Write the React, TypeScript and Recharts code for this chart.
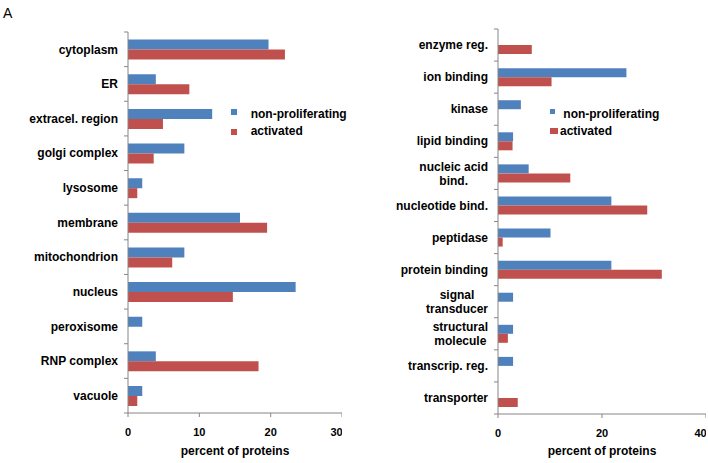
import { BarChart, Bar, XAxis, YAxis, Legend } from 'recharts';

const BLUE = '#4F81BD';
const RED = '#C0504D';
const AXIS = '#868686';
const FONT = "'Liberation Sans', Arial, sans-serif";

// cellular localisation (left panel)
const locations = [
  'cytoplasm', 'ER', 'extracel. region', 'golgi complex', 'lysosome', 'membrane',
  'mitochondrion', 'nucleus', 'peroxisome', 'RNP complex', 'vacuole',
];
const locNonProlif = [19.7, 3.9, 11.8, 7.9, 2.0, 15.7, 7.9, 23.5, 2.0, 3.9, 2.0];
const locActivated = [22.0, 8.6, 4.9, 3.6, 1.3, 19.5, 6.2, 14.7, 0, 18.3, 1.3];
const locTicks = [0, 10, 20, 30];

// molecular function (right panel)
const functions = [
  'enzyme reg.', 'ion binding', 'kinase', 'lipid binding', 'nucleic acid\nbind.',
  'nucleotide bind.', 'peptidase', 'protein binding', 'signal\ntransducer',
  'structural\nmolecule', 'transcrip. reg.', 'transporter',
];
const funcNonProlif = [0, 24.7, 4.4, 2.9, 5.9, 21.8, 10.1, 21.8, 2.9, 2.9, 2.9, 0];
const funcActivated = [6.5, 10.3, 0, 2.8, 13.9, 28.7, 0.9, 31.5, 0, 1.9, 0, 3.8];
const funcTicks = [0, 20, 40];

const seriesNames = ['non-proliferating', 'activated'];

// misura del testo per centrare le etichette su due righe
let canvas: HTMLCanvasElement | null = null;
const measure = (s: string) => {
  if (!canvas) canvas = document.createElement('canvas');
  const ctx = canvas.getContext('2d');
  if (!ctx) return s.length * 6.7;
  ctx.font = `bold 12px ${FONT}`;
  return ctx.measureText(s).width;
};

const CategoryTick = (props: any) => {
  const { x, y, payload, index, band, count } = props;
  const lines = String(payload.value).split('\n');
  const right = x - 10;
  const maxW = Math.max(...lines.map(measure));
  const lh = 14;
  const y0 = y - ((lines.length - 1) * lh) / 2;
  return (
    <g>
      <line x1={x - 4} x2={x} y1={y - band / 2} y2={y - band / 2} stroke={AXIS} />
      {index === count - 1 && (
        <line x1={x - 4} x2={x} y1={y + band / 2} y2={y + band / 2} stroke={AXIS} />
      )}
      {lines.map((l, i) => (
        <text
          key={i}
          x={lines.length > 1 ? right - maxW / 2 : right}
          y={y0 + i * lh}
          dy="0.35em"
          textAnchor={lines.length > 1 ? 'middle' : 'end'}
          fontFamily={FONT}
          fontSize={12}
          fontWeight="bold"
          fill="#000"
        >
          {l}
        </text>
      ))}
    </g>
  );
};

interface LegendRow { mx: number; my: number; mw: number; mh: number; tx: number; ty: number }

// legenda con posizioni fisse (coordinate relative al pannello)
const makeLegend = (rows: LegendRow[]) => (props: any) => {
  const items = [...(props.payload || [])].sort(
    (a: any, b: any) => seriesNames.indexOf(a.value) - seriesNames.indexOf(b.value)
  );
  return (
    <div style={{ position: 'relative', width: 1, height: 1, fontFamily: FONT, fontSize: 12, fontWeight: 'bold' }}>
      {items.map((e: any, i: number) => {
        const r = rows[i];
        return (
          <div key={e.value}>
            <div style={{ position: 'absolute', left: r.mx, top: r.my, width: r.mw, height: r.mh, background: e.color }} />
            <div style={{ position: 'absolute', left: r.tx, top: r.ty - 7, lineHeight: '14px', whiteSpace: 'nowrap', color: '#000' }}>
              {e.value}
            </div>
          </div>
        );
      })}
    </div>
  );
};

interface PanelProps {
  categories: string[];
  nonProlif: number[];
  activated: number[];
  ticks: number[];
  left: number;
  width: number;
  yWidth: number;
  top: number;
  bottom: number;
  legendRows: LegendRow[];
}

function Panel({ categories, nonProlif, activated, ticks, left, width, yWidth, top, bottom, legendRows }: PanelProps) {
  const data = categories.map((name, i) => ({ name, nonProlif: nonProlif[i], activated: activated[i] }));
  const height = 463;
  const band = (bottom - top) / categories.length;
  return (
    <div style={{ position: 'absolute', left, top: 0 }}>
      <BarChart
        width={width}
        height={height}
        data={data}
        layout="vertical"
        margin={{ top, right: 0, bottom: 0, left: 0 }}
        barCategoryGap="22%"
        barGap={0}
      >
        <XAxis
          type="number"
          domain={[ticks[0], ticks[ticks.length - 1]]}
          ticks={ticks}
          height={height - bottom}
          axisLine={{ stroke: AXIS }}
          tickLine={{ stroke: AXIS }}
          tickSize={4}
          tickMargin={11}
          tick={{ fill: '#000', fontSize: 11, fontWeight: 'bold', fontFamily: FONT }}
          label={{
            value: 'percent of proteins',
            position: 'insideBottom',
            offset: 8,
            style: { fill: '#000', fontSize: 12, fontWeight: 'bold', fontFamily: FONT },
          }}
        />
        <YAxis
          type="category"
          dataKey="name"
          width={yWidth}
          interval={0}
          axisLine={{ stroke: AXIS }}
          tickLine={false}
          tickSize={0}
          tickMargin={0}
          tick={<CategoryTick band={band} count={categories.length} />}
        />
        <Legend
          layout="vertical"
          align="center"
          verticalAlign="middle"
          wrapperStyle={{ left: 0, top: 0, width: 1, height: 1 }}
          content={makeLegend(legendRows)}
        />
        <Bar dataKey="nonProlif" name={seriesNames[0]} fill={BLUE} isAnimationActive={false} />
        <Bar dataKey="activated" name={seriesNames[1]} fill={RED} isAnimationActive={false} />
      </BarChart>
    </div>
  );
}

export default function App() {
  return (
    <div style={{ position: 'absolute', left: 0, top: 0, width: 708, height: 463, background: '#fff' }}>
      <div style={{ position: 'absolute', left: 3, top: 5, fontFamily: FONT, fontSize: 14 }}>A</div>
      <Panel
        categories={locations}
        nonProlif={locNonProlif}
        activated={locActivated}
        ticks={locTicks}
        left={0}
        width={342}
        yWidth={128}
        top={32}
        bottom={413}
        legendRows={[
          { mx: 231, my: 108.7, mw: 6, mh: 6, tx: 250.7, ty: 114 },
          { mx: 231, my: 129, mw: 6, mh: 6, tx: 250.7, ty: 131.3 },
        ]}
      />
      <Panel
        categories={functions}
        nonProlif={funcNonProlif}
        activated={funcActivated}
        ticks={funcTicks}
        left={360}
        width={346}
        yWidth={138}
        top={29}
        bottom={414}
        legendRows={[
          { mx: 190, my: 108.7, mw: 5, mh: 5.5, tx: 203.3, ty: 114 },
          { mx: 190, my: 128, mw: 8, mh: 6, tx: 200, ty: 131 },
        ]}
      />
    </div>
  );
}
